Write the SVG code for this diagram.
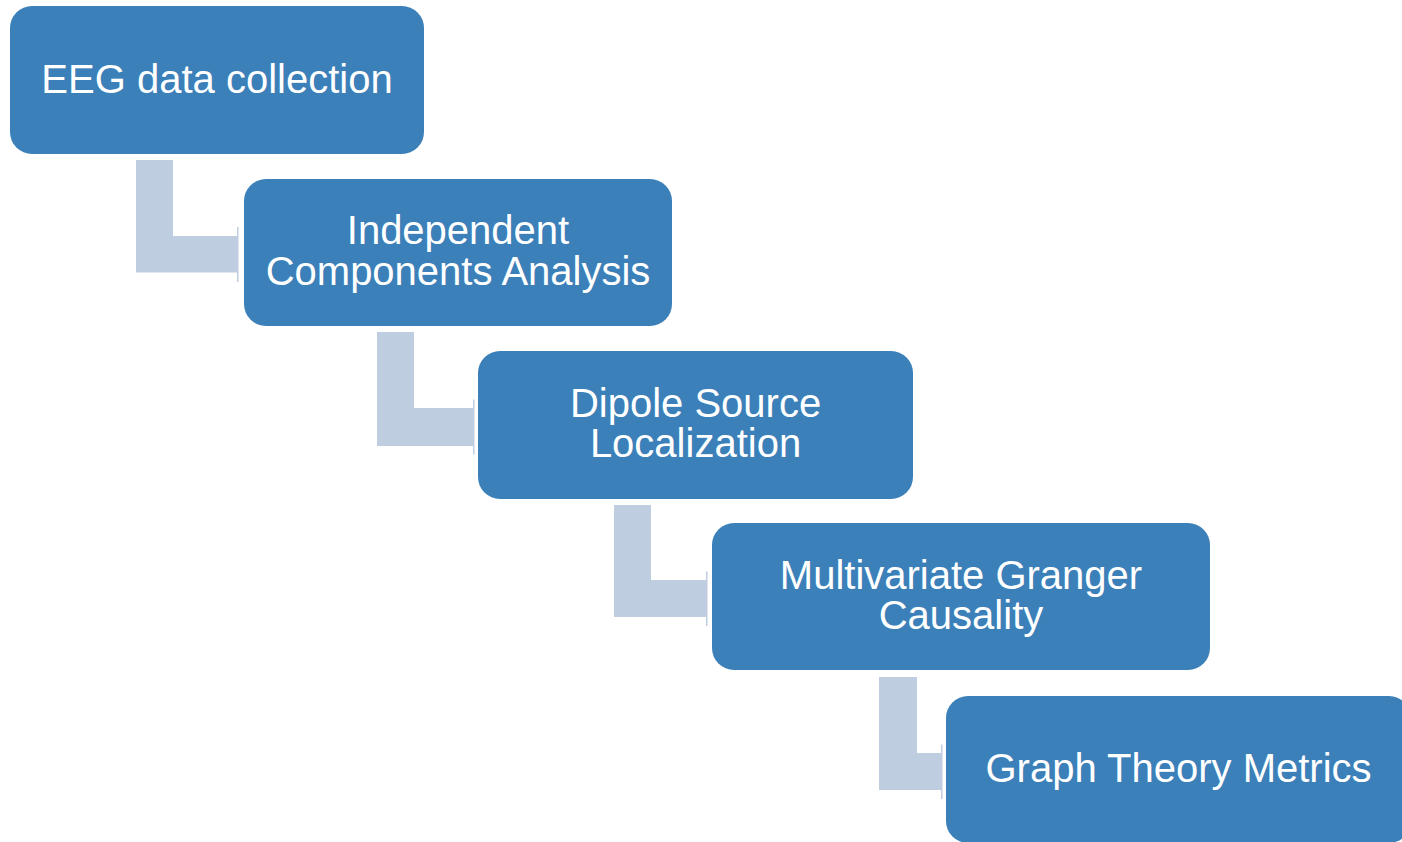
<svg xmlns="http://www.w3.org/2000/svg" width="1402" height="842" viewBox="0 0 1402 842">
<style>
.box{fill:#3B80B9;}
.conn{fill:#BFCDE0;}
.t{font-family:"Liberation Sans",Arial,sans-serif;font-size:40px;fill:#FFFFFF;text-anchor:middle;}
</style>
<rect width="1402" height="842" fill="#FFFFFF"/>
<g id="connectors">
<path class="conn" d="M136,160 H173 V236 H237 V227 H238.5 V282 H237 V272.5 H136 Z"/>
<path class="conn" d="M377,332 H414 V408 H473 V399.5 H474.5 V454.5 H473 V446 H377 Z"/>
<path class="conn" d="M614,505 H651 V580 H706 V571.5 H707.5 V626 H706 V617 H614 Z"/>
<path class="conn" d="M879,677 H917 V753 H941 V744.5 H942.5 V799 H941 V790 H879 Z"/>
</g>
<g id="node1">
<rect class="box" x="10" y="6" width="414" height="148" rx="22"/>
<text class="t" x="217" y="93">EEG data collection</text>
</g>
<g id="node2">
<rect class="box" x="244" y="179" width="428" height="147" rx="22"/>
<text class="t" x="458" y="244">Independent</text>
<text class="t" x="458" y="284.5">Components Analysis</text>
</g>
<g id="node3">
<rect class="box" x="478" y="351" width="435" height="148" rx="22"/>
<text class="t" x="695.5" y="416.5">Dipole Source</text>
<text class="t" x="695.5" y="457">Localization</text>
</g>
<g id="node4">
<rect class="box" x="712" y="523" width="498" height="147" rx="22"/>
<text class="t" x="961" y="588.5">Multivariate Granger</text>
<text class="t" x="961" y="629">Causality</text>
</g>
<g id="node5">
<rect class="box" x="946" y="696" width="465" height="147" rx="22"/>
<text class="t" x="1178.5" y="782">Graph Theory Metrics</text>
</g>
</svg>
